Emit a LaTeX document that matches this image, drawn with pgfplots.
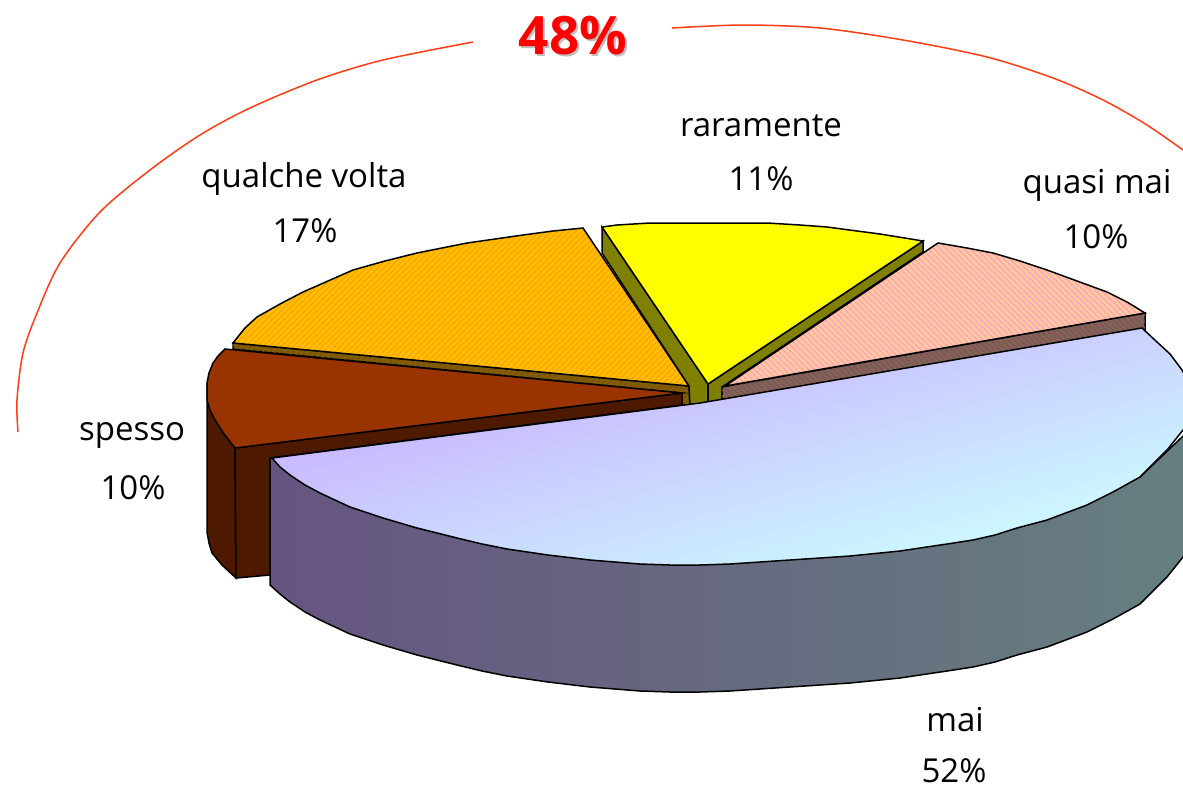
\documentclass[border=0pt]{standalone}
\usepackage{pgfplots}
\pgfplotsset{compat=1.18}
\usepackage{fontspec}
\setmainfont{Open Sans}
\usetikzlibrary{patterns.meta}
\definecolor{orangebase}{HTML}{FFC000}
\definecolor{orangeline}{HTML}{FF9C00}
\definecolor{orangeside}{HTML}{806000}
\definecolor{orangesidel}{HTML}{804E00}
\definecolor{pinkbase}{HTML}{FFCC99}
\definecolor{pinkline}{HTML}{FF99CC}
\definecolor{pinkside}{HTML}{806650}
\definecolor{pinksidel}{HTML}{804D66}
\definecolor{brownt}{HTML}{993300}
\definecolor{brownd}{HTML}{4D1A00}
\definecolor{olive2}{HTML}{808000}
\definecolor{yel}{HTML}{FFFF00}
\definecolor{pure}{HTML}{FF0000}
\definecolor{redarc}{HTML}{FF3C14}
\definecolor{lilacc}{HTML}{C9A6FF}
\definecolor{cyanc}{HTML}{CCFFFF}
\definecolor{sidel}{HTML}{665480}
\definecolor{sider}{HTML}{668080}
\newcommand{\lab}[3]{\node[font=\fontsize{33}{36}\selectfont,text=black,anchor=center,inner sep=0pt] at (axis cs:#1,#2) {#3};}
\begin{document}
\begin{tikzpicture}
\begin{axis}[width=1183pt,height=788pt,scale only axis,xmin=0,xmax=1183,ymin=0,ymax=788,y dir=reverse,hide axis,clip=true]
\path (rel axis cs:0,0) rectangle (rel axis cs:1,1);
% red bracket
\addplot[redarc,line width=1.5pt,smooth] coordinates {(18,432)(17,400)(23,353)(37,313)(60,263)(100,212)(150,170)(200,135)(250,108)(317,80)(383,60)(473,42)};
\addplot[redarc,line width=1.5pt,smooth] coordinates {(672,28)(743,25)(820,28)(903,40)(987,57)(1053,78)(1103,100)(1147,125)(1190,155)};
% orange side
\addplot[draw=black,line width=1.5pt,fill=orangeside] coordinates {(233,343)(689,386)(690,405)(682,405)(682,393)(233,349)} --cycle;
\addplot[draw=none,pattern={Lines[angle=45,distance=4pt,line width=1.5pt]},pattern color=orangesidel] coordinates {(233,343)(689,386)(690,405)(682,405)(682,393)(233,349)} --cycle;
% orange top
\addplot[draw=none,fill=orangebase] coordinates {(233,343)(245,328)(257,317)(280,304)(303,292)(328,281)(353,270)(385,261)(417,253)(442,248)(467,243)(495,239)(523,235)(553,231)(583,228)(689,386)} --cycle;
\addplot[draw=none,pattern={Lines[angle=45,distance=4pt,line width=1.5pt]},pattern color=orangeline] coordinates {(233,343)(245,328)(257,317)(280,304)(303,292)(328,281)(353,270)(385,261)(417,253)(442,248)(467,243)(495,239)(523,235)(553,231)(583,228)(689,386)} --cycle;
\addplot[draw=black,line width=1.5pt] coordinates {(233,343)(245,328)(257,317)(280,304)(303,292)(328,281)(353,270)(385,261)(417,253)(442,248)(467,243)(495,239)(523,235)(553,231)(583,228)(689,386)} --cycle;
% brown outer side
\addplot[draw=black,line width=1.5pt,fill=brownd] coordinates {(207,383)(207,400)(215,420)(235,448)(236,578)(222,565)(212,553)(209,543)(207,532)} --cycle;
% brown inner face
\addplot[draw=black,line width=1.5pt,fill=brownd] coordinates {(235,448)(682,393)(682,405)(270,458)(270,575)(236,578)} --cycle;
% brown top
\addplot[draw=black,line width=1.5pt,fill=brownt] coordinates {(225,349)(218,356)(213,363)(209,373)(207,383)(207,400)(210,410)(215,420)(224,434)(235,448)(682,393)} --cycle;
% yellow sides
\addplot[draw=black,line width=1.5pt,fill=olive2] coordinates {(602,227)(708,384)(708,404)(690,405)(689,386)(602,253)} --cycle;
\addplot[draw=black,line width=1.5pt,fill=olive2] coordinates {(708,384)(923,241)(923,252)(722,387)(722,401)(708,404)} --cycle;
% yellow top
\addplot[draw=black,line width=1.5pt,fill=yel] coordinates {(602,227)(617,225)(650,223)(700,223)(767,223)(800,225)(827,227)(857,231)(880,234)(923,241)(708,384)} --cycle;
% pink side
\addplot[draw=black,line width=1.5pt,fill=pinkside] coordinates {(722,387)(1145,313)(1145,333)(722,401)} --cycle;
\addplot[draw=none,pattern={Lines[angle=-45,distance=4pt,line width=1.5pt]},pattern color=pinksidel] coordinates {(722,387)(1145,313)(1145,333)(722,401)} --cycle;
% pink top
\addplot[draw=none,fill=pinkbase] coordinates {(725,386)(938,243)(967,248)(993,253)(1020,261)(1047,270)(1077,281)(1107,292)(1127,302)(1145,313)} --cycle;
\addplot[draw=none,pattern={Lines[angle=-45,distance=4pt,line width=1.5pt]},pattern color=pinkline] coordinates {(725,386)(938,243)(967,248)(993,253)(1020,261)(1047,270)(1077,281)(1107,292)(1127,302)(1145,313)} --cycle;
\addplot[draw=black,line width=1.5pt] coordinates {(725,386)(938,243)(967,248)(993,253)(1020,261)(1047,270)(1077,281)(1107,292)(1127,302)(1145,313)} --cycle;
% mai side
\addplot[draw=black,line width=1.5pt,left color=sidel,right color=sider] coordinates {(270,458)(270,585)(280,594)(290,602)(305,612)(320,620)(335,627)(350,634)(383,645)(417,655)(437,660)(457,665)(482,671)(507,676)(548,682)(590,687)(615,689)(640,691)(670,692)(700,692)(730,691)(760,689)(790,687)(820,685)(850,683)(880,680)(900,678)(920,675)(947,671)(973,667)(995,662)(1017,655)(1047,647)(1087,632)(1113,619)(1140,604)(1167,577)(1183,557)(1200,530)(1200,420)(1140,477)} --cycle;
% mai top
\addplot[draw=black,line width=1.5pt,top color=lilacc,bottom color=cyanc,shading angle=15] coordinates {(272,458)(700,403)(1142,328)(1157,342)(1170,354)(1182,370)(1190,385)(1195,400)(1193,415)(1183,430)(1167,450)(1140,477)(1113,492)(1087,505)(1047,520)(1017,528)(995,535)(973,540)(947,544)(920,548)(900,551)(880,553)(850,556)(820,558)(790,560)(760,562)(730,564)(700,565)(670,565)(640,564)(615,562)(590,560)(548,555)(507,549)(482,544)(457,538)(437,533)(417,528)(383,518)(350,507)(335,500)(320,493)(305,485)(290,475)(280,467)} --cycle;
\lab{761}{126}{raramente}
\lab{761}{179}{11\%}
\lab{304}{179}{qualche volta}
\lab{305}{231}{17\%}
\lab{1097}{185}{quasi mai}
\lab{1096}{237}{10\%}
\lab{132}{435}{spesso}
\lab{133}{488}{10\%}
\lab{955}{720}{mai}
\lab{954}{771}{52\%}
\node[font=\fontsize{53}{56}\selectfont\bfseries,text=black!25,inner sep=0pt] at (axis cs:575,38) {48\%};
\node[font=\fontsize{53}{56}\selectfont\bfseries,text=pure,inner sep=0pt] at (axis cs:573,36) {48\%};
\end{axis}
\end{tikzpicture}
\end{document}
